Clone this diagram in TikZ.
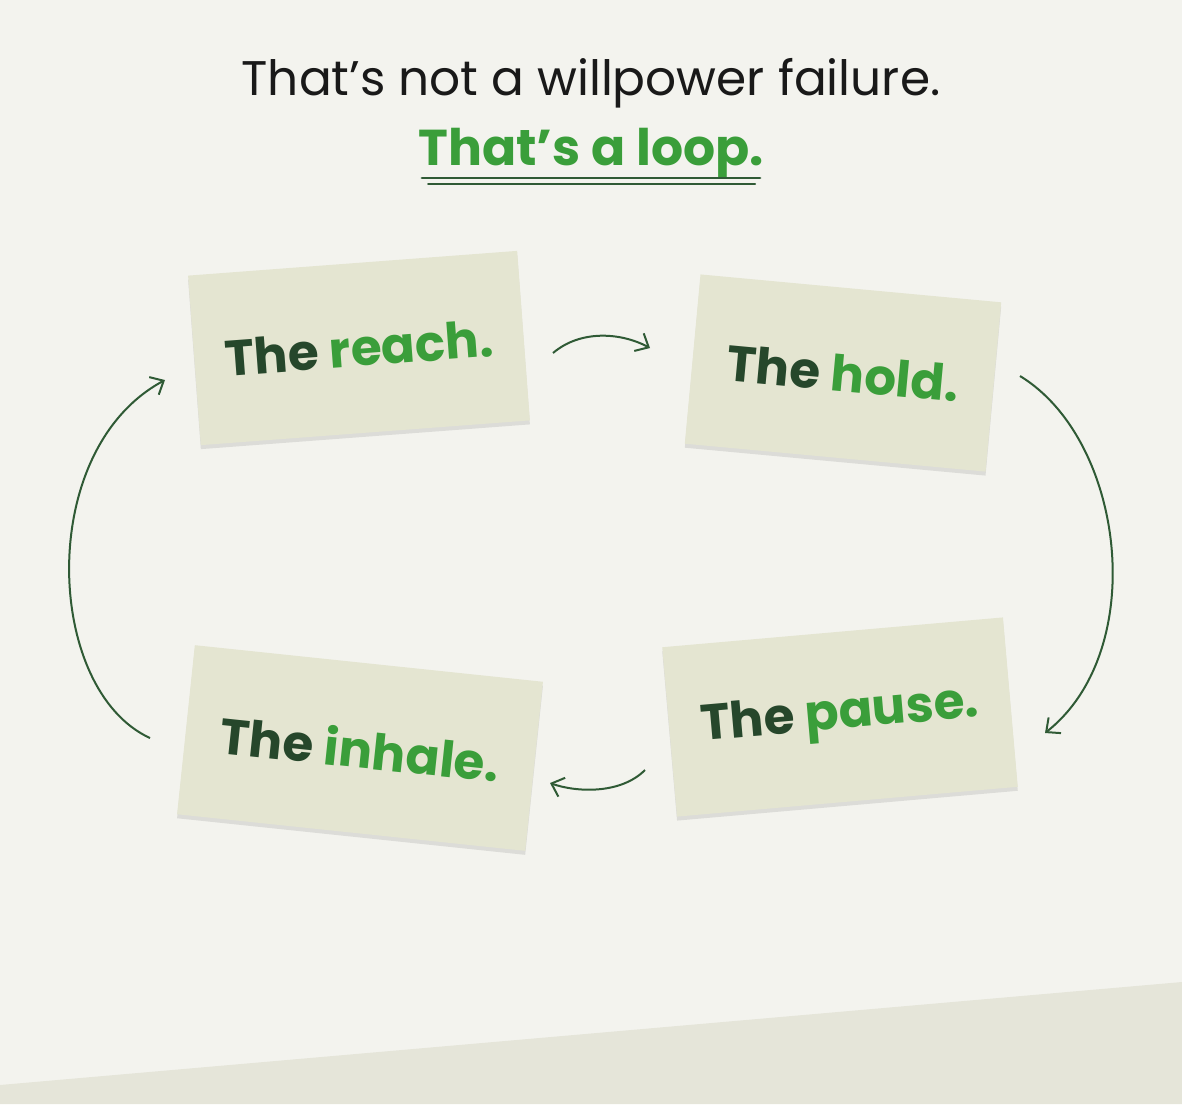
\documentclass[tikz,border=0pt]{standalone}
\usepackage{fontspec}
\setmainfont{Poppins}
\usetikzlibrary{arrows.meta,shadows}
\definecolor{bgpaper}{HTML}{F3F3EE}
\definecolor{bgfloor}{HTML}{E5E5D9}
\definecolor{cardfill}{HTML}{E4E5D1}
\definecolor{leafdark}{HTML}{26472B}
\definecolor{leaf}{HTML}{3A9E3A}
\definecolor{inkline}{HTML}{2F5A35}

\begin{document}
\begin{tikzpicture}[
 x=0.5pt, y=-0.5pt,
 card/.style={rectangle, fill=cardfill, minimum width=#1, minimum height=85pt, inner sep=0pt,
   drop shadow={shadow xshift=0pt, shadow yshift=-2pt, opacity=0.2, fill=black!50},
   font=\fontsize{25}{30}\selectfont\bfseries},
 arr/.style={-{Straight Barb[length=5.5pt, width=10pt]}, line width=1pt, inkline},
]
% background
\fill[bgpaper] (0,0) rectangle (1182,1104);
\fill[bgfloor] (0,1085) -- (1182,982) -- (1182,1104) -- (0,1104) -- cycle;
\useasboundingbox (0,0) rectangle (1182,1104);

% title
\node[anchor=base, font=\fontsize{24.3}{30}\selectfont, text=black!90] (title) at (591,95) {That’s not a willpower failure.};
\node[anchor=base, font=\fontsize{25.2}{30}\selectfont\bfseries, text=leaf] (loop) at (591,165) {That’s a loop.};
\draw[inkline, line width=1.4pt, line cap=round] (422,178) -- (760,178);
\draw[inkline, line width=1pt, line cap=round] (428,183.5) -- (755,183.5);

% cards
\node[card=165pt, rotate=4.3] (reach) at (359,348) {\textcolor{leafdark}{The} \textcolor{leaf}{reach.}};
\node[card=151pt, rotate=-5.3] (hold) at (843,373) {\textcolor{leafdark}{The} \textcolor{leaf}{hold.}};
\node[card=171pt, rotate=5] (pause) at (840,717) {\textcolor{leafdark}{The} \textcolor{leaf}{pause.}};
\node[card=175pt, rotate=-6] (inhale) at (360,748) {\textcolor{leafdark}{The} \textcolor{leaf}{inhale.}};

% arrow ends
\coordinate (reach-out) at (553,353);
\coordinate (hold-in) at (650,348);
\coordinate (hold-out) at (1020,376);
\coordinate (pause-in) at (1045,733);
\coordinate (pause-out) at (645,770);
\coordinate (inhale-in) at (550,783);
\coordinate (inhale-out) at (150,738);
\coordinate (reach-in) at (165,380);

% loop
\draw[arr] (reach-out) .. controls (580,330) and (620,332) .. (hold-in);
\draw[arr] (hold-out) .. controls (1125,440) and (1150,650) .. (pause-in);
\draw[arr] (pause-out) .. controls (620,795) and (575,792) .. (inhale-in);
\draw[arr] (inhale-out) .. controls (45,690) and (35,450) .. (reach-in);

\end{tikzpicture}
\end{document}
